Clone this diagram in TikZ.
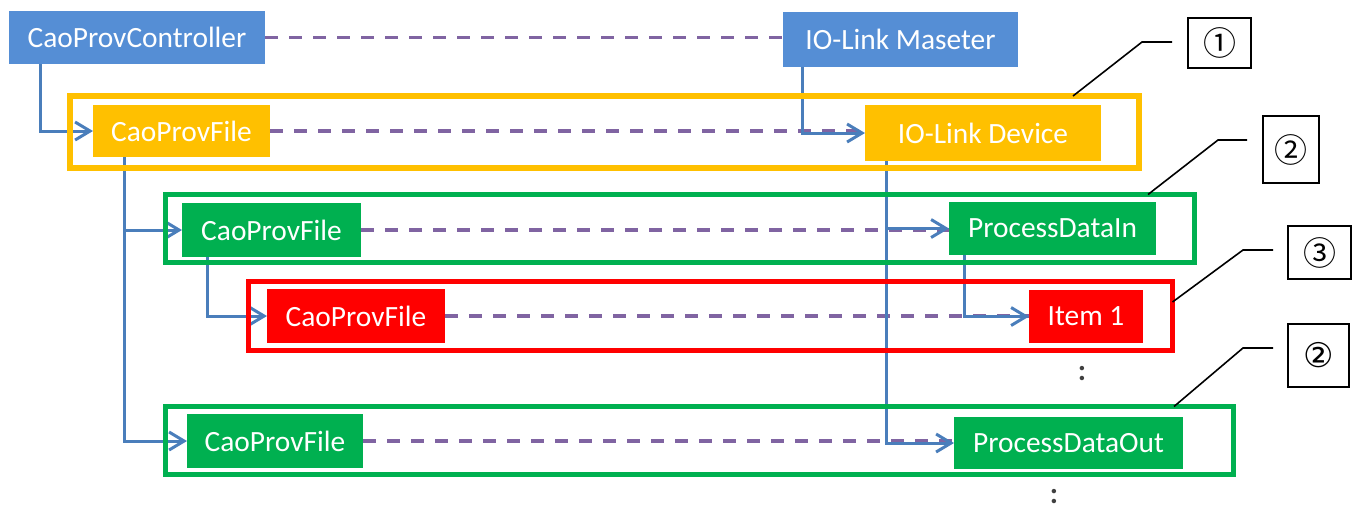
\documentclass[tikz,border=0pt]{standalone}
\usepackage{fontspec}
\setmainfont{Carlito}
\newfontfamily\cjk{Noto Sans CJK JP}
\newfontfamily\dejavu{DejaVu Sans}
\usetikzlibrary{arrows.meta}
\definecolor{ctrlblue}{RGB}{85,142,213}
\definecolor{treeblue}{RGB}{74,126,187}
\definecolor{linkpurple}{RGB}{128,100,162}
\definecolor{devorange}{RGB}{255,192,0}
\definecolor{datagreen}{RGB}{0,176,80}
\definecolor{itemred}{RGB}{255,0,0}
\definecolor{dotgray}{RGB}{64,64,64}

\begin{document}
\begin{tikzpicture}[x=0.5pt,y=-0.5pt,
    >={Straight Barb[length=7.5pt,width=9pt]},
    every node/.style={inner sep=0pt,outer sep=0pt},
    cell/.style={rectangle,text=white,font=\fontsize{14.7}{16}\selectfont},
    zone/.style={rectangle,draw,line width=2.6pt},
    tag/.style={rectangle,draw=black,line width=0.8pt,font=\cjk\fontsize{16.5}{18}\selectfont},
    tree/.style={->,draw=treeblue,line width=1.5pt},
    link/.style={draw=linkpurple,line width=1.7pt,dash pattern=on 6.5pt off 5.5pt},
    leader/.style={draw=black,line width=0.8pt}]
    \useasboundingbox (0,0) rectangle (1355,510);

    \node[cell,fill=ctrlblue,minimum width=128pt,minimum height=26.5pt]   (ctrl)   at (137,37.5)    {CaoProvController};
    \node[cell,fill=ctrlblue,minimum width=117.5pt,minimum height=27.5pt] (master) at (900.5,39.5)  {IO-Link Maseter};
    \node[cell,fill=devorange,minimum width=88.5pt,minimum height=26pt]   (file1)  at (181.5,131)   {CaoProvFile};
    \node[cell,fill=devorange,minimum width=118pt,minimum height=28pt]    (device) at (983,133)     {IO-Link Device};
    \node[cell,fill=datagreen,minimum width=89.5pt,minimum height=27pt]   (file2)  at (271.5,230)   {CaoProvFile};
    \node[cell,fill=datagreen,minimum width=103.5pt,minimum height=26.5pt] (pin)   at (1052.5,228.5) {ProcessDataIn};
    \node[cell,fill=itemred,minimum width=89pt,minimum height=27pt]       (file3)  at (356,316)     {CaoProvFile};
    \node[cell,fill=itemred,minimum width=57pt,minimum height=26.5pt]     (item)   at (1086,316.5)  {Item 1};
    \node[cell,fill=datagreen,minimum width=88pt,minimum height=27pt]     (file4)  at (275,441)     {CaoProvFile};
    \node[cell,fill=datagreen,minimum width=114.5pt,minimum height=26pt]  (pout)   at (1068.5,443)  {ProcessDataOut};

    \node[text=dotgray,font=\bfseries\fontsize{15}{16}\selectfont] (more1) at (1082,374) {:};
    \node[text=dotgray,font=\bfseries\fontsize{15}{16}\selectfont] (more2) at (1054,497) {:};

    \path[link] (ctrl.east)  edge (ctrl.east -| master.west)
                (file1.east) edge (file1.east -| device.west)
                (file2.east) edge (file2.east -| pin.west)
                (file3.east) edge (file3.east -| item.west)
                (file4.east) edge (file4.east -| pout.west);

    \draw[tree] ([xshift=15.5pt]ctrl.south west)   |- (file1);
    \draw[tree] ([xshift=9.5pt]master.south west)  |- (device);
    \draw[tree] ([xshift=15.5pt]file1.south west)  |- (file2);
    \draw[tree] ([xshift=15.5pt]file1.south west)  |- (file4);
    \draw[tree] ([xshift=10.5pt]device.south west) |- (pin);
    \draw[tree] ([xshift=10.5pt]device.south west) |- (pout);
    \draw[tree] ([xshift=12.5pt]file2.south west)  |- (file3);
    \draw[tree] ([xshift=7.5pt]pin.south west)     |- (item);

    \node[zone,draw=devorange,minimum width=534.5pt,minimum height=36pt] (f1) at (604.5,132)   {};
    \node[zone,draw=datagreen,minimum width=514.5pt,minimum height=34pt] (f2) at (680,228.5)   {};
    \node[zone,draw=itemred,minimum width=462pt,minimum height=34.5pt]   (f3) at (710.5,316)   {};
    \node[zone,draw=datagreen,minimum width=534pt,minimum height=34pt]   (f4) at (699.5,440.5) {};

    \node[tag,minimum width=31.5pt,minimum height=25pt]   (n1) at (1219.5,43)    {①};
    \node[tag,minimum width=28pt,minimum height=33.5pt]   (n2) at (1291,149.5)   {②};
    \node[tag,minimum width=31.5pt,minimum height=26.5pt] (n3) at (1319.5,252.5) {③};
    \node[tag,minimum width=30.5pt,minimum height=31.5pt,font=\dejavu\fontsize{17}{18}\selectfont] (n4) at (1318.5,355.5) {②};

    \coordinate (e1) at (1172,42);
    \coordinate (e2) at (1247,140);
    \coordinate (e3) at (1273,250);
    \coordinate (e4) at (1273,348);
    \draw[leader] ([xshift=-33pt]f1.north east)   -- ++(69,-54)   -- (e1);
    \draw[leader] ([xshift=-23.25pt]f2.north east) -- ++(70,-54.5) -- (e2);
    \draw[leader] ([yshift=7pt]f3.east)           -- ++(70.5,-52) -- (e3);
    \draw[leader] ([xshift=-29.75pt]f4.north east) -- ++(69,-58.5) -- (e4);
\end{tikzpicture}
\end{document}
